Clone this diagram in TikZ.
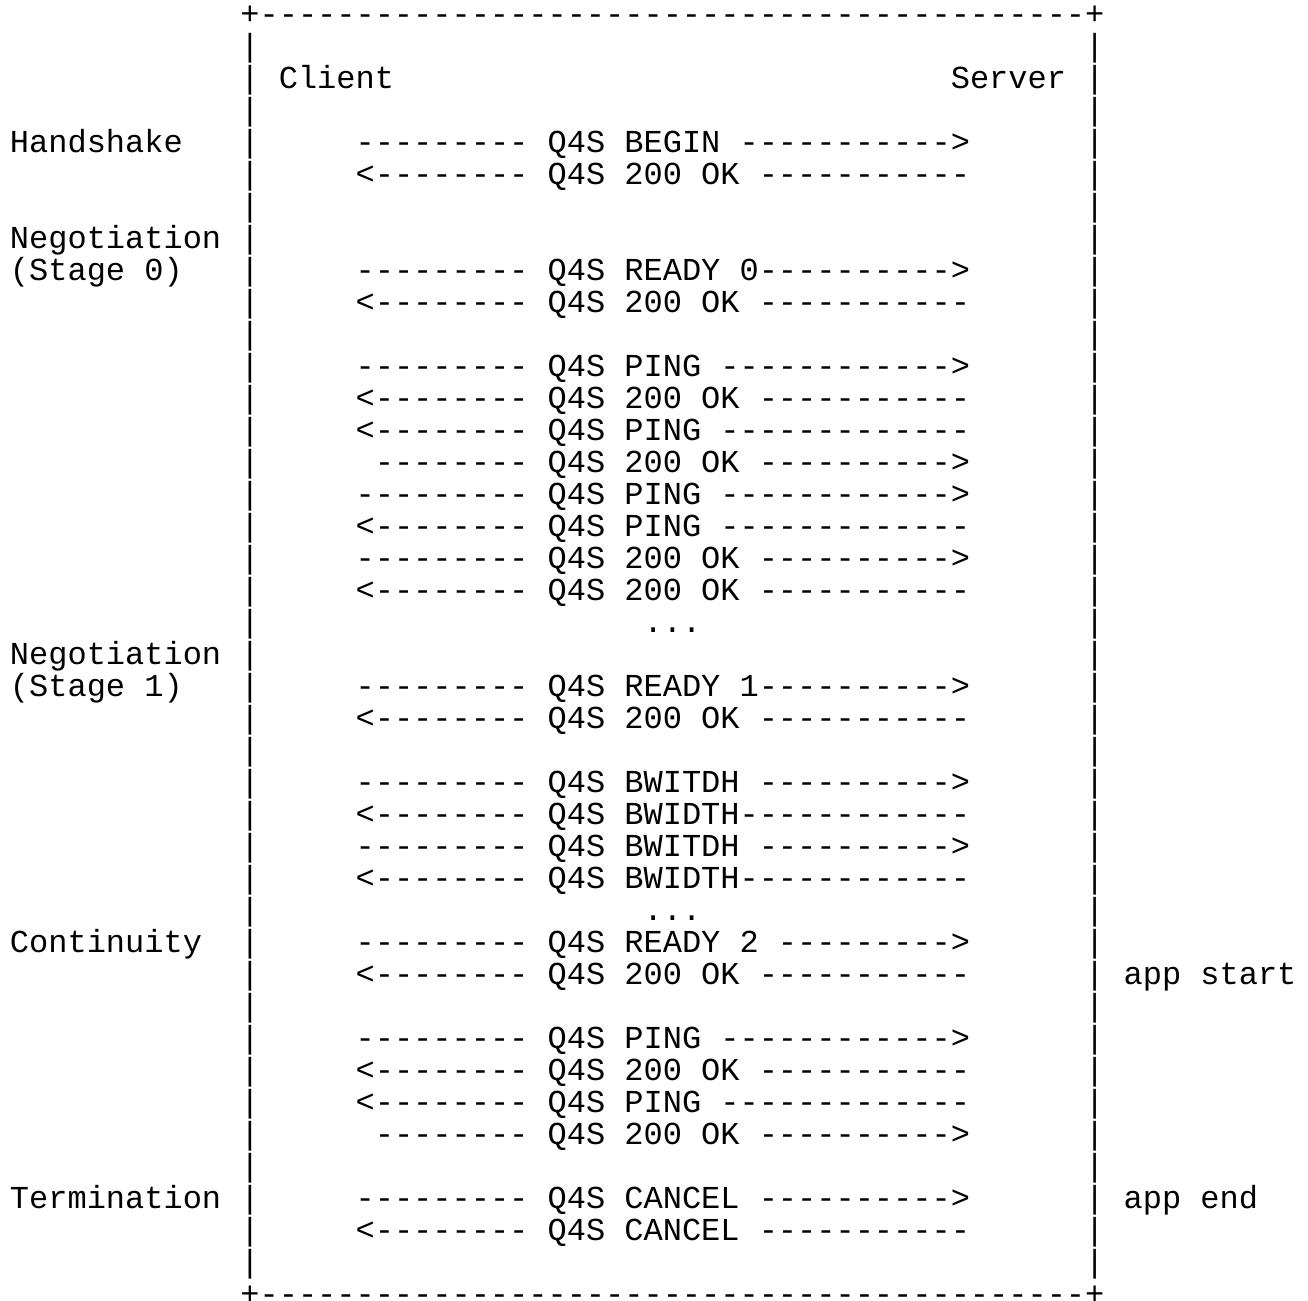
\documentclass[tikz,border=0pt]{standalone}
\usepackage{fontspec}
\setmonofont{Liberation Mono}
\usepackage{tikz}

\begin{document}
\begin{tikzpicture}[
    x=9.6pt, y={(0pt,-16pt)},
    ascii/.style={font=\ttfamily\fontsize{16}{16}\selectfont, inner sep=0pt, anchor=base west, text=black}
]
\useasboundingbox (-0.5,-0.759375) rectangle (67.625,39.896875);
% frame
\node[ascii] (top) at (12,0) {+-------------------------------------------+};
\node[ascii] (bottom) at (12,40) {+-------------------------------------------+};
\foreach \r in {1,...,39} {
    \node[ascii] (lbar-\r) at (12,\r) {|};
    \node[ascii] (rbar-\r) at (56,\r) {|};
}
\node[ascii] (client) at (14,2) {Client};
\node[ascii] (server) at (49,2) {Server};
% phases
\node[ascii] (handshake) at (0,4) {Handshake};
\node[ascii] (nego0) at (0,7) {Negotiation};
\node[ascii] (stage0) at (0,8) {(Stage 0)};
\node[ascii] (nego1) at (0,20) {Negotiation};
\node[ascii] (stage1) at (0,21) {(Stage 1)};
\node[ascii] (continuity) at (0,29) {Continuity};
\node[ascii] (termination) at (0,37) {Termination};
\node[ascii] (appstart) at (58,30) {app start};
\node[ascii] (append) at (58,37) {app end};
% messages
\foreach \r/\c/\t in {
    4/18/{--------- Q4S BEGIN ----------->},
    5/18/{<-------- Q4S 200 OK -----------},
    8/18/{--------- Q4S READY 0---------->},
    9/18/{<-------- Q4S 200 OK -----------},
    11/18/{--------- Q4S PING ------------>},
    12/18/{<-------- Q4S 200 OK -----------},
    13/18/{<-------- Q4S PING -------------},
    14/19/{-------- Q4S 200 OK ---------->},
    15/18/{--------- Q4S PING ------------>},
    16/18/{<-------- Q4S PING -------------},
    17/18/{--------- Q4S 200 OK ---------->},
    18/18/{<-------- Q4S 200 OK -----------},
    19/33/{...},
    21/18/{--------- Q4S READY 1---------->},
    22/18/{<-------- Q4S 200 OK -----------},
    24/18/{--------- Q4S BWITDH ---------->},
    25/18/{<-------- Q4S BWIDTH------------},
    26/18/{--------- Q4S BWITDH ---------->},
    27/18/{<-------- Q4S BWIDTH------------},
    28/33/{...},
    29/18/{--------- Q4S READY 2 --------->},
    30/18/{<-------- Q4S 200 OK -----------},
    32/18/{--------- Q4S PING ------------>},
    33/18/{<-------- Q4S 200 OK -----------},
    34/18/{<-------- Q4S PING -------------},
    35/19/{-------- Q4S 200 OK ---------->},
    37/18/{--------- Q4S CANCEL ---------->},
    38/18/{<-------- Q4S CANCEL -----------}} {
    \node[ascii] (msg-\r) at (\c,\r) {\t};
}
\end{tikzpicture}
\end{document}
